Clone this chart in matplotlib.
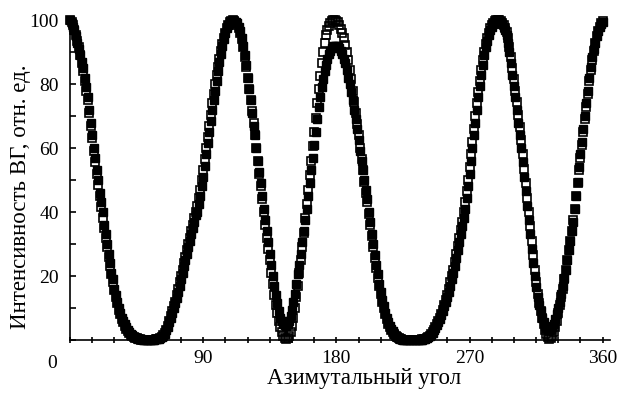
import numpy as np
import matplotlib
matplotlib.use("Agg")
import matplotlib.pyplot as plt
from matplotlib.ticker import MultipleLocator
from matplotlib.transforms import ScaledTranslation

plt.rcParams['font.family'] = ['Liberation Serif', 'DejaVu Serif']

# azimuthal angle, degrees (one point per degree)
angle = np.arange(0, 361)

# filled squares
filled = [
    100, 99, 98, 97, 95, 93, 91, 89, 87, 85,
    82, 79, 76, 72, 68, 64, 60, 57, 53, 50,
    46, 43, 40, 36, 33, 30, 27, 24, 21, 19,
    16, 14, 12, 10, 8.5, 7, 6, 5, 4, 3.2,
    2.5, 2, 1.5, 1.1, 0.8, 0.6, 0.4, 0.3, 0.2, 0.1,
    0, 0, 0, 0, 0, 0, 0.1, 0.1, 0.2, 0.2,
    0.3, 0.5, 0.8, 1.2, 1.8, 3, 4, 5.5, 7, 8.5,
    10, 11.5, 13, 15, 17, 19, 21, 23, 25, 27,
    29, 31, 33, 35, 37, 39, 40, 42.5, 45, 48,
    51, 54.5, 58, 61.5, 65, 68.5, 72, 75, 78, 81,
    84, 87, 89.5, 92, 94, 96, 97.5, 98.5, 99.3, 99.8,
    100, 99.8, 99.4, 99, 98, 96.5, 94.5, 92, 89, 86,
    82, 78.5, 75, 71, 67, 64, 60, 56, 52.5, 49,
    45, 41, 37.5, 34, 30.5, 27, 23.5, 20, 17, 14,
    11.5, 9, 7, 6, 5, 4.6, 4.5, 5, 6, 7.5,
    9.5, 12, 14.5, 17.5, 20.5, 23.5, 27, 30.5, 34, 37.5,
    41, 45, 49, 53, 57, 61, 65, 69, 73, 76,
    79, 81.5, 84, 86, 88, 89.5, 90.5, 91.3, 91.8, 92,
    92, 91.8, 91.3, 90.5, 89.5, 88, 86.5, 84.5, 82, 80,
    77.5, 75, 72, 69, 66, 62.5, 59, 56, 53, 50,
    47, 44, 40, 37, 33, 30, 26.5, 23.5, 20.5, 17.5,
    15, 12.5, 10.5, 8.5, 7, 5.5, 4.5, 3.5, 2.7, 2,
    1.4, 1, 0.6, 0.4, 0.2, 0.1, 0, 0, 0, 0,
    0, 0, 0, 0, 0, 0, 0, 0.1, 0.1, 0.2,
    0.3, 0.5, 0.8, 1.2, 1.7, 2.3, 3, 3.8, 4.7, 5.6,
    6.6, 7.7, 9, 10.5, 12, 13.5, 15, 17, 19, 21,
    23, 25.5, 28, 30.5, 33, 35.5, 38, 41, 44.5, 48,
    52, 56, 60, 64, 68, 72, 76, 79.5, 83, 86,
    89, 91.5, 93.5, 95.5, 97, 98, 98.8, 99.4, 99.8, 100,
    99.8, 99.4, 98.8, 98, 97, 95.5, 93, 90, 86.5, 83,
    79.5, 76, 72, 68, 64, 60, 55.5, 51, 46.5, 42,
    37.5, 33, 28.5, 24, 20, 16.5, 13.5, 11, 9, 7,
    5.5, 4.5, 3.8, 3.3, 3, 3.3, 4, 5, 6.5, 8,
    10, 12, 14.5, 17, 19.5, 22, 25, 28, 31, 34,
    37, 41, 45, 49.5, 54, 58, 62, 66, 70, 74,
    78, 82, 85.5, 88.5, 91, 93, 95, 96.5, 97.8, 98.8,
    99.5,
]

# open squares
opened = [
    100, 99.5, 98.5, 97, 95.5, 93.5, 91.5, 89, 86.5, 84,
    81, 78, 75, 71, 67, 63, 59, 55.5, 52, 48.5,
    45, 41.5, 38, 35, 32, 29, 26, 23, 20.5, 18,
    15.5, 13.5, 11.5, 9.5, 8, 6.5, 5.5, 4.5, 3.6, 2.8,
    2.2, 1.7, 1.3, 1, 0.7, 0.5, 0.3, 0.2, 0.1, 0,
    0, 0, 0, 0, 0, 0, 0, 0.1, 0.2, 0.3,
    0.4, 0.6, 1, 1.5, 2.2, 3.2, 4.5, 6, 7.5, 9,
    10.5, 12, 14, 16, 18, 20, 22, 24, 26, 28,
    30, 32, 34, 36, 38, 40, 42, 44.5, 47, 50,
    53, 56.5, 60, 63.5, 67, 70.5, 74, 77, 80, 83,
    85.5, 88, 90.5, 92.5, 94.5, 96, 97.5, 98.5, 99.3, 99.8,
    100, 99.7, 99.2, 98.5, 97.5, 96, 94, 91.5, 88.5, 85.5,
    82, 78.5, 75, 71.5, 68, 64, 60, 56, 52, 48,
    44, 40, 36, 32, 28.5, 25, 21, 17.5, 14, 11,
    8.5, 6, 4, 2.5, 1.3, 0.6, 0.3, 0.5, 1.2, 2.5,
    4.5, 7, 10, 13.5, 17, 21, 25, 29, 33.5, 38,
    42.5, 47, 51.5, 56, 60.5, 65, 69.5, 74, 78.5, 82.5,
    86.5, 90, 93, 95.3, 97, 98.3, 99.2, 99.7, 100, 100,
    99.8, 99.3, 98.5, 97.3, 96, 94.3, 92.3, 90, 87.5, 84.5,
    81.5, 78, 74.5, 71, 67.5, 64, 60, 56.5, 53, 49.5,
    46, 43, 39.5, 36, 32.5, 29, 25.5, 22.5, 19.5, 17,
    14.5, 12, 10, 8, 6.5, 5, 4, 3.2, 2.5, 1.8,
    1.3, 0.9, 0.6, 0.3, 0.2, 0.1, 0, 0, 0, 0,
    0, 0, 0, 0, 0, 0, 0, 0.1, 0.2, 0.3,
    0.4, 0.6, 0.9, 1.3, 1.9, 2.5, 3.2, 4, 5, 6,
    7, 8.2, 9.5, 11, 12.5, 14, 16, 18, 20, 22,
    24.5, 27, 29.5, 32, 34.5, 37, 40, 43, 46.5, 50,
    54, 58, 62, 66, 70, 74, 77.5, 81, 84.5, 87.5,
    90, 92.5, 94.5, 96, 97.5, 98.5, 99.2, 99.6, 99.9, 100,
    99.9, 99.6, 99.1, 98.4, 97.5, 96.3, 94.3, 91.5, 88.5, 85,
    81.5, 78, 74.5, 70.5, 66.5, 62.5, 58, 53.5, 49, 44.5,
    40, 35.5, 31, 26.5, 22, 18, 14.5, 11.5, 9, 7,
    5, 3.2, 1.8, 0.8, 0.3, 0.5, 1.2, 2.5, 4, 6,
    8.5, 11, 13.5, 16, 19, 22, 25, 28, 31, 34,
    37.5, 41, 45, 49, 53, 57, 61, 65, 69, 73,
    77, 81, 84.5, 87.5, 90.5, 93, 95, 96.7, 98, 99,
    99.7,
]

x_ticks = [0, 90, 180, 270, 360]
y_ticks = [20, 40, 60, 80, 100]

fig = plt.figure(figsize=(6.2, 3.94), dpi=100)
ax = fig.add_axes([0.113, 0.137, 0.871, 0.820])

ax.plot(angle, filled, linestyle="none", marker="s", markersize=6,
        color="black", clip_on=False)
ax.plot(angle, opened, linestyle="none", marker="s", markersize=6,
        markerfacecolor="none", markeredgecolor="black", markeredgewidth=1.2,
        clip_on=False)

ax.set_xlim(0, 365)
ax.set_ylim(0, 101)

ax.spines["top"].set_visible(False)
ax.spines["right"].set_visible(False)
ax.spines["left"].set_linewidth(1.2)
ax.spines["bottom"].set_linewidth(1.2)

ax.set_xticks(x_ticks)
ax.xaxis.set_minor_locator(MultipleLocator(15))
ax.set_yticks(y_ticks)
ax.yaxis.set_minor_locator(MultipleLocator(10))

ax.tick_params(axis="x", which="both", direction="inout", length=5, width=1.2,
               labelsize=14, pad=5)
ax.tick_params(axis="y", which="both", direction="in", length=4, width=1.2,
               labelsize=14, pad=8)

# the "0" sits left of the axis corner in the original
lbl0 = ax.get_xticklabels()[0]
lbl0.set_transform(lbl0.get_transform() + ScaledTranslation(-0.18, -0.05, fig.dpi_scale_trans))

ax.set_xlabel("Азимутальный угол", fontsize=16.5)
ax.xaxis.set_label_coords(0.544, -0.087)
ax.set_ylabel("Интенсивность ВГ, отн. ед.", fontsize=16.5)
ax.yaxis.set_label_coords(-0.072, 0.443)

fig.savefig("out.png", dpi=100)
